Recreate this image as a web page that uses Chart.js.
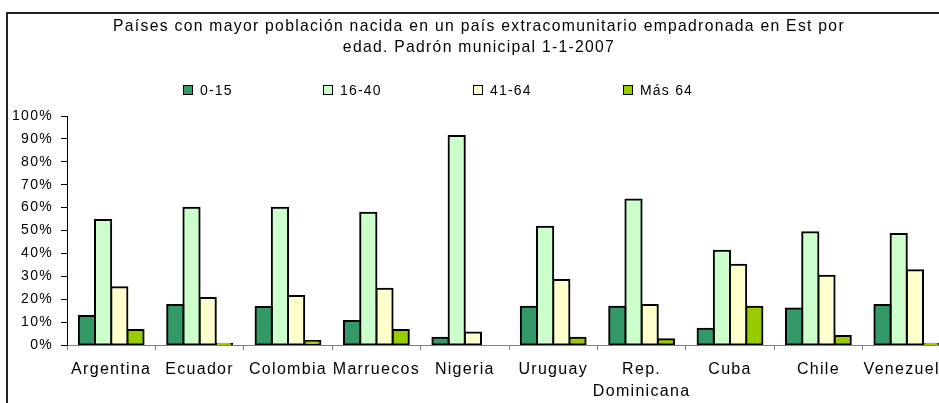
<!DOCTYPE html>
<html>
<head>
<meta charset="utf-8">
<script src="https://cdn.jsdelivr.net/npm/chart.js@4.4.1/dist/chart.umd.min.js"></script>
<style>
html,body{margin:0;padding:0;background:#fff;overflow:hidden;width:939px;height:403px;}
#frame{position:absolute;left:6px;top:12px;width:1200px;height:800px;border:2px solid #222;box-sizing:border-box;}
#wrap{position:absolute;left:0;top:0;width:958px;height:403px;}
#legend{position:absolute;left:0;top:0;width:939px;height:403px;pointer-events:none;
font-family:"Liberation Sans",Arial,sans-serif;font-size:14px;letter-spacing:1.2px;color:#000;}
.item{position:absolute;top:82px;height:16px;line-height:16px;display:flex;align-items:center;white-space:nowrap;}
.box{width:10px;height:10px;border:1px solid #000;box-sizing:border-box;margin-right:7px;}
</style>
</head>
<body>
<div id="frame"></div>
<div id="wrap"><canvas id="chart" width="958" height="403"></canvas></div>
<div id="legend"></div>
<script>

const countries = ['Argentina','Ecuador','Colombia','Marruecos','Nigeria','Uruguay',['Rep.','Dominicana'],'Cuba','Chile','Venezuela'];

const ageGroups = ['0-15','16-40','41-64','Más 64'];

// percent of each country's population by age group
const age0to15  = [12.7, 17.5, 16.6, 10.5,  3.2, 16.7, 16.7,  7.1, 15.9, 17.5];
const age16to40 = [54.6, 60.0, 60.0, 57.8, 91.3, 51.7, 63.6, 41.2, 49.2, 48.5];
const age41to64 = [25.2, 20.5, 21.4, 24.6,  5.5, 28.4, 17.5, 35.1, 30.3, 32.6];
const ageOver64 = [ 6.5,  0.5,  1.7,  6.5, null,  3.2,  2.5, 16.7,  3.9,  0.5];

const groupColors = ['#339966','#CCFFCC','#FFFFCC','#99CC00'];

const titleLines = ['Países con mayor población nacida en un país extracomunitario empadronada en Est por','edad. Padrón municipal 1-1-2007'];

const fontFamily = '"Liberation Sans", Arial, sans-serif';

Chart.defaults.font.family = fontFamily;
Chart.defaults.color = '#000';

// excel-ish wide text
const spacingPlugin = {
id:'spacing',
beforeLayout(c){ c.ctx.letterSpacing='1.3px'; },
beforeDraw(c){ c.ctx.letterSpacing='1.3px'; }
};

const seriesValues = [age0to15, age16to40, age41to64, ageOver64];

const datasets = ageGroups.map((name,i)=>({
label:name,
data:seriesValues[i],
backgroundColor:groupColors[i],
borderColor:'#000',
borderWidth:2,
inflateAmount:1,
borderSkipped:false,
categoryPercentage:0.733,
barPercentage:1.0
}));

new Chart(document.getElementById('chart'),{
type:'bar',
data:{labels:countries,datasets:datasets},
plugins:[spacingPlugin],
options:{
responsive:false,
animation:false,
devicePixelRatio:1,
layout:{padding:{left:7,right:7,top:0,bottom:0}},
plugins:{
legend:{display:false},
tooltip:{enabled:false},
title:{
display:true,
text:titleLines,
color:'#000',
font:{size:15.7,weight:'normal',lineHeight:1.32},
padding:{top:16.6,bottom:58}
}
},
scales:{
x:{
grid:{drawOnChartArea:false,drawTicks:true,tickLength:5,color:'#808080',offset:true},
border:{color:'#808080',width:1},
ticks:{color:'#000',font:{size:16,lineHeight:1.4},padding:8,autoSkip:false,maxRotation:0,minRotation:0},
afterFit:s=>{ s.height=58; s.paddingLeft=0; s.paddingRight=0; }
},
y:{
min:0,
max:100,
ticks:{stepSize:10,callback:v=>v+'%',color:'#000',font:{size:14},padding:8},
grid:{drawOnChartArea:false,drawTicks:true,tickLength:6,color:'#000'},
border:{color:'#000',width:1},
afterFit:s=>{ s.width=60; }
}
}
}
});

// legend, spaced like the original
const legendLeft = [183, 323, 473, 623];
const legend = document.getElementById('legend');
ageGroups.forEach((name,i)=>{
const item = document.createElement('div');
item.className = 'item';
item.style.left = legendLeft[i] + 'px';
const box = document.createElement('span');
box.className = 'box';
box.style.background = groupColors[i];
item.appendChild(box);
item.appendChild(document.createTextNode(name));
legend.appendChild(item);
});

</script>
</body>
</html>
